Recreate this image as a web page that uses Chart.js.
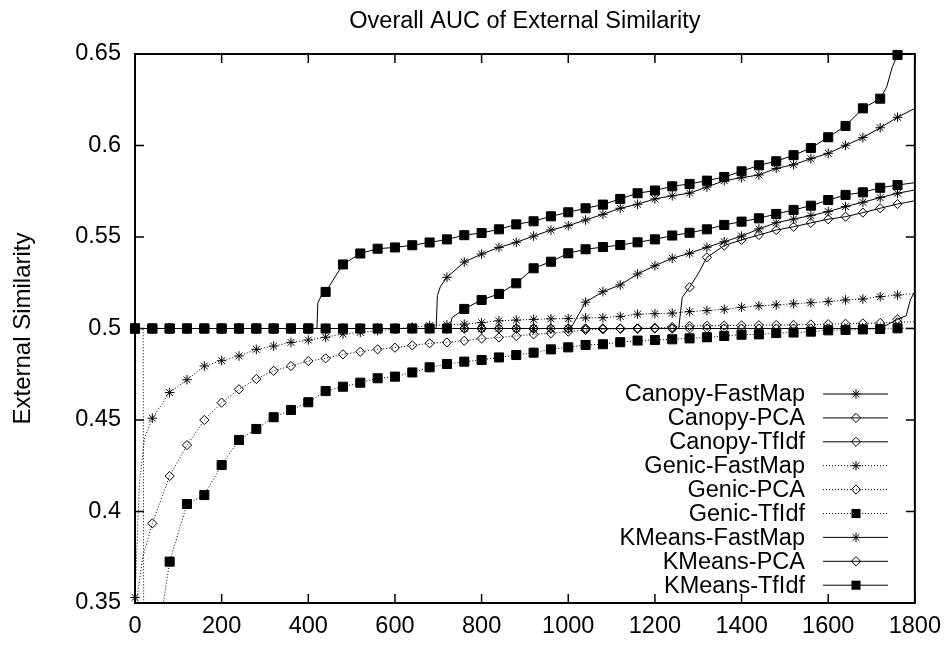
<!DOCTYPE html>
<html>
<head>
<meta charset="utf-8">
<script src="https://cdn.jsdelivr.net/npm/chart.js@4.4.1/dist/chart.umd.min.js"></script>
<style>
  body { margin: 0; background: #fff; }
  canvas { display: block; }
</style>
</head>
<body>
<canvas id="grafico" width="950" height="645"></canvas>
<script>
// Eixo x comum (marcadores a cada 40, exceto no fim)
const xGrid = [0, 40, 80, 120, 160, 200, 240, 280, 320, 360, 400, 440, 480, 520, 560, 600,
  640, 680, 720, 760, 800, 840, 880, 920, 960, 1000, 1040, 1080, 1120, 1160, 1200, 1240,
  1280, 1320, 1360, 1400, 1440, 1480, 1520, 1560, 1600, 1640, 1680, 1720, 1760, 1800];

const xTicks = [0, 200, 400, 600, 800, 1000, 1200, 1400, 1600, 1800];
const yTicks = [0.35, 0.4, 0.45, 0.5, 0.55, 0.6, 0.65];

const canopyFastMap = [0.5, 0.5, 0.5, 0.5, 0.5, 0.5, 0.5, 0.5, 0.5, 0.5, 0.5, 0.5, 0.5,
  0.5, 0.5, 0.5, 0.5, 0.5, 0.5, 0.5, 0.5, 0.5, 0.5, 0.5, 0.5, 0.5,
  0.5144, 0.5201, 0.5238, 0.5298, 0.5343, 0.5384, 0.5411, 0.5444, 0.5474, 0.5505,
  0.5544, 0.5578, 0.5598, 0.5617, 0.5639, 0.5666, 0.569, 0.5715, 0.5739, 0.5757];
const canopyFastMapExtra = [[1008, 0.501], [1020, 0.506]];

const canopyPCA = [0.5, 0.5, 0.5, 0.5, 0.5, 0.5, 0.5, 0.5, 0.5, 0.5, 0.5, 0.5, 0.5, 0.5,
  0.5, 0.5, 0.5, 0.5, 0.5, 0.5, 0.5, 0.5, 0.5, 0.5, 0.5, 0.5, 0.5, 0.5, 0.5, 0.5, 0.5, 0.5,
  0.5225, 0.5389, 0.5453, 0.5484, 0.5511, 0.5538, 0.5556, 0.5577, 0.5597, 0.5611,
  0.5633, 0.5657, 0.568, 0.5698];
const canopyPCAExtra = [[1255, 0.5], [1263, 0.517], [1300, 0.53]];

const canopyTfIdf = [0.5, 0.5, 0.5, 0.5, 0.5, 0.5, 0.5, 0.5, 0.5, 0.5, 0.5, 0.5, 0.5, 0.5,
  0.5, 0.5, 0.5, 0.5, 0.5,
  0.5107, 0.5156, 0.5189, 0.5247, 0.5329, 0.5365, 0.5411, 0.5433, 0.5445, 0.5456,
  0.5471, 0.5487, 0.5508, 0.5523, 0.5542, 0.5566, 0.5584, 0.5602, 0.5626, 0.5648,
  0.5671, 0.5702, 0.573, 0.5744, 0.5769, 0.5784, 0.5797];
const canopyTfIdfExtra = [[726, 0.5], [732, 0.506]];

const genicFastMap = [0.353, 0.451, 0.465, 0.472, 0.4795, 0.4824, 0.485, 0.4886, 0.4904, 0.4924,
  0.4937, 0.4952, 0.497, 0.4979, 0.4988, 0.4997, 0.5008, 0.5016, 0.502, 0.5024,
  0.5032, 0.5042, 0.5046, 0.505, 0.5053, 0.5054, 0.5058, 0.5059, 0.5066, 0.5078,
  0.5081, 0.5084, 0.5092, 0.5098, 0.5105, 0.5116, 0.5124, 0.5129, 0.5135, 0.5141,
  0.5147, 0.5156, 0.5161, 0.5174, 0.5183, 0.519];
const genicFastMapExtra = [[10, 0.415], [22, 0.44]];

const genicPCA = [0.33, 0.3935, 0.4194, 0.4363, 0.45, 0.4595, 0.4668, 0.4724, 0.4769, 0.4795,
  0.4822, 0.4837, 0.4859, 0.4873, 0.4886, 0.4895, 0.4908, 0.4919, 0.4924, 0.4933,
  0.4945, 0.4951, 0.4959, 0.4968, 0.4974, 0.4983, 0.4992, 0.4996, 0.4998, 0.5,
  0.5003, 0.5008, 0.5014, 0.5015, 0.5016, 0.5017, 0.5018, 0.5019, 0.502, 0.5022,
  0.5024, 0.5026, 0.5028, 0.503, 0.5034, 0.5037];
const genicPCAExtra = [[6, 0.355], [18, 0.375]];

const genicTfIdf = [0.5, 0.25, 0.3726, 0.4041, 0.409, 0.4254, 0.4391, 0.4451, 0.4515, 0.4555,
  0.4597, 0.4658, 0.4682, 0.4704, 0.4728, 0.4737, 0.476, 0.4788, 0.4806, 0.4819,
  0.4828, 0.4842, 0.4855, 0.4868, 0.4886, 0.4897, 0.491, 0.4914, 0.4925, 0.4934,
  0.4937, 0.4941, 0.4946, 0.4952, 0.4959, 0.4966, 0.4968, 0.4975, 0.4978, 0.4983,
  0.499, 0.4992, 0.4995, 0.4997, 0.5001, 0.5002];
const genicTfIdfExtra = [[19, 0.5], [21, 0.2], [62, 0.345]];

const kmeansFastMap = [0.5, 0.5, 0.5, 0.5, 0.5, 0.5, 0.5, 0.5, 0.5, 0.5, 0.5, 0.5, 0.5,
  0.5, 0.5, 0.5, 0.5, 0.5,
  0.528, 0.5363, 0.5407, 0.5443, 0.5471, 0.5505, 0.5538, 0.5562, 0.5593, 0.5624,
  0.5657, 0.5679, 0.5708, 0.5725, 0.574, 0.5773, 0.5808, 0.5824, 0.5839, 0.5875,
  0.5895, 0.5928, 0.5957, 0.6001, 0.6043, 0.6097, 0.6154, 0.6203];
const kmeansFastMapExtra = [[695, 0.5], [698, 0.518], [705, 0.523]];

const kmeansPCA = [0.5, 0.5, 0.5, 0.5, 0.5, 0.5, 0.5, 0.5, 0.5, 0.5, 0.5, 0.5, 0.5, 0.5,
  0.5, 0.5, 0.5, 0.5, 0.5, 0.5, 0.5, 0.5, 0.5, 0.5, 0.5, 0.5, 0.5, 0.5, 0.5, 0.5, 0.5, 0.5,
  0.5, 0.5, 0.5, 0.5, 0.5, 0.5, 0.5, 0.5, 0.5, 0.5, 0.5, 0.5, 0.505, 0.52];
const kmeansPCAExtra = [[1780, 0.507], [1790, 0.516]];

const kmeansTfIdf = [0.5, 0.5, 0.5, 0.5, 0.5, 0.5, 0.5, 0.5, 0.5, 0.5, 0.5,
  0.52, 0.535, 0.541, 0.5436, 0.5443, 0.5455, 0.547, 0.5487, 0.551, 0.5522,
  0.5542, 0.5569, 0.5586, 0.5613, 0.5635, 0.5657, 0.5677, 0.5708, 0.5739, 0.5754,
  0.5777, 0.579, 0.5808, 0.5828, 0.5859, 0.5892, 0.5914, 0.5947, 0.5986, 0.6045,
  0.6107, 0.6203, 0.6256, 0.6495, 0.65];
const kmeansTfIdfExtra = [[420, 0.5], [422, 0.514], [430, 0.518], [1735, 0.632], [1748, 0.643]];

const FONTE = "'Liberation Sans', Arial, Helvetica, sans-serif";
const RAIO = { star: 4.8, rectRot: 4.6, rect: 6.4 };

// Junta a grade e os pontos extras (só a grade recebe marcador)
const montaPontos = (ys, extras) => {
  const pts = xGrid.map((x, i) => ({ x, y: ys[i] }));
  extras.forEach(([x, y]) => pts.push({ x, y }));
  return pts.sort((a, b) => a.x - b.x);
};

const temMarcador = raw => raw && raw.x % 40 === 0 && raw.x < 1800;

const serie = (label, ys, extras, estilo, pontilhado, estiloLegenda) => ({
  label,
  data: montaPontos(ys, extras),
  borderColor: '#000',
  borderWidth: 1,
  borderDash: pontilhado ? [1, 2] : [],
  pointStyle: estilo,
  legendStyle: estiloLegenda || estilo,
  pointRadius: ctx => temMarcador(ctx.raw) ? RAIO[estilo] : 0,
  pointBorderColor: '#000',
  pointBorderWidth: 1,
  pointBackgroundColor: estilo === 'rect' ? '#000' : 'rgba(0,0,0,0)',
  tension: 0,
  clip: { left: 10, right: 10, top: 10, bottom: 0 }
});

const datasets = [
  serie('Canopy-FastMap', canopyFastMap, canopyFastMapExtra, 'star', false),
  serie('Canopy-PCA', canopyPCA, canopyPCAExtra, 'rectRot', false),
  serie('Canopy-TfIdf', canopyTfIdf, canopyTfIdfExtra, 'rect', false, 'rectRot'),
  serie('Genic-FastMap', genicFastMap, genicFastMapExtra, 'star', true),
  serie('Genic-PCA', genicPCA, genicPCAExtra, 'rectRot', true),
  serie('Genic-TfIdf', genicTfIdf, genicTfIdfExtra, 'rect', true),
  serie('KMeans-FastMap', kmeansFastMap, kmeansFastMapExtra, 'star', false),
  serie('KMeans-PCA', kmeansPCA, kmeansPCAExtra, 'rectRot', false),
  serie('KMeans-TfIdf', kmeansTfIdf, kmeansTfIdfExtra, 'rect', false)
];

// Desenha um marcador no estilo gnuplot
const desenhaMarcador = (ctx, estilo, x, y) => {
  ctx.save();
  ctx.strokeStyle = '#000';
  ctx.fillStyle = '#000';
  ctx.lineWidth = 1;
  ctx.setLineDash([]);
  const r = RAIO[estilo];
  ctx.beginPath();
  if (estilo === 'star') {
    const d = r * Math.SQRT1_2;
    ctx.moveTo(x - r, y); ctx.lineTo(x + r, y);
    ctx.moveTo(x, y - r); ctx.lineTo(x, y + r);
    ctx.moveTo(x - d, y - d); ctx.lineTo(x + d, y + d);
    ctx.moveTo(x - d, y + d); ctx.lineTo(x + d, y - d);
    ctx.stroke();
  } else if (estilo === 'rectRot') {
    ctx.moveTo(x, y - r); ctx.lineTo(x + r, y); ctx.lineTo(x, y + r); ctx.lineTo(x - r, y);
    ctx.closePath();
    ctx.stroke();
  } else {
    const s = r * Math.SQRT1_2;
    ctx.fillRect(x - s, y - s, 2 * s, 2 * s);
  }
  ctx.restore();
};

// Moldura com marcas internas nos quatro lados
const moldura = {
  id: 'moldura',
  beforeDatasetsDraw(chart) {
    const { ctx, chartArea: a, scales: { x, y } } = chart;
    ctx.save();
    ctx.strokeStyle = '#000';
    ctx.lineWidth = 1.5;
    ctx.beginPath();
    xTicks.forEach(v => {
      const px = x.getPixelForValue(v);
      ctx.moveTo(px, a.bottom); ctx.lineTo(px, a.bottom - 9);
      ctx.moveTo(px, a.top); ctx.lineTo(px, a.top + 9);
    });
    yTicks.forEach(v => {
      const py = y.getPixelForValue(v);
      ctx.moveTo(a.left, py); ctx.lineTo(a.left + 9, py);
      ctx.moveTo(a.right, py); ctx.lineTo(a.right - 9, py);
    });
    ctx.stroke();
    ctx.lineWidth = 2;
    ctx.strokeRect(a.left, a.top, a.right - a.left, a.bottom - a.top);
    ctx.restore();
  }
};

// Legenda no canto inferior direito: texto, linha e marcador
const legenda = {
  id: 'legenda',
  afterDraw(chart) {
    const { ctx } = chart;
    ctx.save();
    ctx.font = '23.5px ' + FONTE;
    ctx.textAlign = 'right';
    ctx.textBaseline = 'middle';
    ctx.fillStyle = '#000';
    chart.data.datasets.forEach((ds, i) => {
      const y = 394 + i * 23.9;
      ctx.fillText(ds.label, 805, y + 1);
      ctx.strokeStyle = '#000';
      ctx.lineWidth = 1;
      ctx.setLineDash(ds.borderDash);
      ctx.beginPath();
      ctx.moveTo(823, y); ctx.lineTo(888, y);
      ctx.stroke();
      ctx.setLineDash([]);
      desenhaMarcador(ctx, ds.legendStyle, 856, y);
    });
    ctx.restore();
  }
};

new Chart(document.getElementById('grafico'), {
  type: 'line',
  data: { datasets },
  options: {
    responsive: false,
    animation: false,
    events: [],
    layout: { padding: { left: 0, right: 35, top: 0, bottom: 0 } },
    plugins: {
      legend: { display: false },
      tooltip: { enabled: false },
      title: {
        display: true,
        fullSize: false,
        text: 'Overall AUC of External Similarity',
        color: '#000',
        font: { family: FONTE, size: 23.5, weight: 'normal' },
        padding: { top: 7, bottom: 18.8 }
      }
    },
    scales: {
      x: {
        type: 'linear',
        min: 0,
        max: 1800,
        afterFit: s => { s.height = 42; },
        afterBuildTicks: s => { s.ticks = xTicks.map(v => ({ value: v })); },
        grid: { display: false, drawTicks: false },
        border: { display: false },
        ticks: {
          color: '#000',
          padding: 9,
          maxRotation: 0,
          font: { family: FONTE, size: 23.5 },
          callback: v => String(v)
        }
      },
      y: {
        type: 'linear',
        min: 0.35,
        max: 0.65,
        afterFit: s => { s.width = 135; },
        afterBuildTicks: s => { s.ticks = yTicks.map(v => ({ value: v })); },
        grid: { display: false, drawTicks: false },
        border: { display: false },
        ticks: {
          color: '#000',
          padding: 14,
          font: { family: FONTE, size: 23.5 },
          callback: v => String(+v.toFixed(2))
        },
        title: {
          display: true,
          text: 'External Similarity',
          color: '#000',
          font: { family: FONTE, size: 24 },
          padding: { top: 8.6, bottom: 0 }
        }
      }
    }
  },
  plugins: [moldura, legenda]
});
</script>
</body>
</html>
